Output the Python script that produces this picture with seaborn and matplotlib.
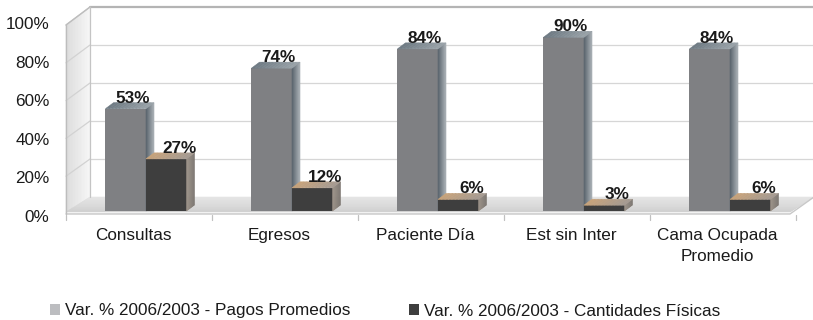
import numpy as np
import pandas as pd
import matplotlib
matplotlib.use("Agg")
import matplotlib.pyplot as plt
import matplotlib.transforms as mtransforms
from matplotlib.patches import Polygon, Patch
from matplotlib.colors import to_rgb
import seaborn as sns

# ---- data -------------------------------------------------------------
categories = ["Consultas", "Egresos", "Paciente Día", "Est sin Inter", "Cama Ocupada\nPromedio"]
pagos = [53, 74, 84, 90, 84]
cantidades = [27, 12, 6, 3, 6]
series = ["Var. % 2006/2003 - Pagos Promedios", "Var. % 2006/2003 - Cantidades Físicas"]
yticks = [0, 20, 40, 60, 80, 100]

# ---- style ------------------------------------------------------------
sns.set_theme(style="white")
plt.rcParams["font.family"] = ["Liberation Sans", "DejaVu Sans"]

GRAY_FRONT = "#7f8083"
DARK_FRONT = "#3e3e3e"
TEXT = "#1a1a1a"
FS = 12.3

W, H, DPI = 813, 320, 100
fig = plt.figure(figsize=(W / DPI, H / DPI), dpi=DPI)
fig.patch.set_facecolor("white")

# pixel-space canvas (origin top-left) for the box walls and floor
bg = fig.add_axes([0, 0, 1, 1])
bg.set_xlim(0, W)
bg.set_ylim(H, 0)
bg.axis("off")

front = dict(x0=66, x1=790, y0=214, y100=25)
back = dict(x0=90, x1=814, y0=197, y100=7)


def plane_y(p, v):
    return p["y0"] + (p["y100"] - p["y0"]) * v / 100.0


def shade_quad(axis, p0, p1, p2, p3, c0, c1, n=16, transform=None, zorder=1):
    """Fill quad p0-p1-p2-p3 with a linear gradient running from edge p0-p3 to edge p1-p2."""
    p0, p1, p2, p3 = (np.asarray(p, float) for p in (p0, p1, p2, p3))
    c0, c1 = np.array(to_rgb(c0)), np.array(to_rgb(c1))
    tr = transform if transform is not None else axis.transData
    for k in range(n):
        t0, t1 = k / n, (k + 1) / n
        a = p0 + (p1 - p0) * t0
        b = p0 + (p1 - p0) * t1
        c = p3 + (p2 - p3) * t1
        d = p3 + (p2 - p3) * t0
        col = c0 + (c1 - c0) * (k + 0.5) / n
        axis.add_patch(Polygon([a, b, c, d], closed=True, fc=col, ec=col, lw=0.4,
                               transform=tr, zorder=zorder, clip_on=False))


# back wall
bg.add_patch(Polygon([(back["x0"], back["y100"]), (back["x1"], back["y100"]),
                      (back["x1"], back["y0"]), (back["x0"], back["y0"])],
                     closed=True, fc="white", ec="none", zorder=0))
# left wall
shade_quad(bg, (front["x0"], plane_y(front, 100)), (back["x0"], plane_y(back, 100)),
           (back["x0"], back["y0"]), (front["x0"], front["y0"]),
           "#dcdcdc", "#f6f6f6", zorder=0.5)
# floor
shade_quad(bg, (back["x0"], back["y0"]), (front["x0"], front["y0"] - 2),
           (front["x1"], front["y0"] - 2), (back["x1"], back["y0"]),
           "#e6e6e6", "#d0d0d0", zorder=0.5)
bg.add_patch(Polygon([(front["x0"], front["y0"] - 2), (front["x1"], front["y0"] - 2),
                      (front["x1"], front["y0"]), (front["x0"], front["y0"])],
                     closed=True, fc="#f2f2f2", ec="none", zorder=0.6))
bg.plot([front["x0"], front["x1"], back["x1"]], [front["y0"], front["y0"], back["y0"]],
        color="#c8c8c8", lw=1.0, zorder=0.7)

# grid lines on back and left walls
for v in yticks[1:]:
    yb, yf = plane_y(back, v), plane_y(front, v)
    if v == 100:
        bg.plot([back["x0"], back["x1"]], [yb, yb], color="#b4b4b4", lw=1.6, zorder=0.8)
    else:
        bg.plot([back["x0"], back["x1"]], [yb, yb], color="#d6d6d6", lw=0.9, zorder=0.8)
    bg.plot([front["x0"], back["x0"]], [yf, yb], color="#d2d2d2", lw=0.9, zorder=0.8)

# wall edges
bg.plot([front["x0"], front["x0"]], [plane_y(front, 100), front["y0"]], color="#bdbdbd", lw=1.0, zorder=0.9)
bg.plot([front["x0"], back["x0"]], [plane_y(front, 100), plane_y(back, 100)], color="#bdbdbd", lw=1.0, zorder=0.9)
bg.plot([back["x0"], back["x0"]], [plane_y(back, 100), back["y0"]], color="#c4c4c4", lw=0.9, zorder=0.9)

# category separators under the floor
step = (front["x1"] - front["x0"]) / len(categories) * 1.008
for k in range(len(categories) + 1):
    xk = front["x0"] + step * k
    bg.plot([xk, xk], [front["y0"] + 1, front["y0"] + 6], color="#c0c0c0", lw=0.9, zorder=0.9)

# ---- bars -------------------------------------------------------------
ax = fig.add_axes([73 / W, (H - 211) / H, 730 / W, 193 / H])
ax.patch.set_alpha(0)

df = pd.DataFrame({
    "categoria": categories * 2,
    "valor": pagos + cantidades,
    "serie": [series[0]] * len(categories) + [series[1]] * len(categories),
})
sns.barplot(data=df, x="categoria", y="valor", hue="serie", hue_order=series,
            palette=[GRAY_FRONT, DARK_FRONT], width=0.555, saturation=1,
            edgecolor="none", linewidth=0, legend=False, ax=ax)

ax.set_xlim(-0.5, len(categories) - 0.5)
ax.set_ylim(0, 100)
for s in ax.spines.values():
    s.set_visible(False)
ax.set_xlabel("")
ax.set_ylabel("")

# tick labels sit on the front plane of the box
ax.set_yticks(yticks)
ax.set_yticklabels([f"{v}%" for v in yticks])
ax.tick_params(axis="y", length=0, pad=17, labelsize=FS, labelcolor=TEXT)
ax.tick_params(axis="x", length=0, pad=12.5, labelsize=FS, labelcolor=TEXT)
shift_x = mtransforms.ScaledTranslation(-13 / DPI, 0, fig.dpi_scale_trans)
shift_y = mtransforms.ScaledTranslation(0, -5 / DPI, fig.dpi_scale_trans)
for lab in ax.get_xticklabels():
    lab.set_transform(lab.get_transform() + shift_x)
    lab.set_linespacing(1.45)
    lab.set_verticalalignment("top")
for lab in ax.get_yticklabels():
    lab.set_transform(lab.get_transform() + shift_y)

# depth faces of every bar, built from the bar rectangles
ident = mtransforms.IdentityTransform()
DX, DY = 8, 6
face_styles = [
    dict(side=("#56616a", "#aab1b6"), top=("#6d7982", "#9aa3a9"), z=2, lab_dx=7),
    dict(side=("#9c9287", "#7b756f"), top=("#c9a37a", "#a39a92"), z=3, lab_dx=13),
]
for container, style, vals in zip(ax.containers, face_styles, [pagos, cantidades]):
    for rect, val in zip(container.patches, vals):
        rect.set_zorder(style["z"])
        x0, y0 = rect.get_x(), rect.get_y()
        x1, y1 = x0 + rect.get_width(), y0 + rect.get_height()
        (dx0, dy0), (dx1, dy1) = ax.transData.transform([(x0, y0), (x1, y1)])
        # side face
        shade_quad(ax, (dx1, dy0), (dx1 + DX, dy0 + DY), (dx1 + DX, dy1 + DY), (dx1, dy1),
                   *style["side"], n=8, transform=ident, zorder=style["z"] + 0.1)
        # top face
        shade_quad(ax, (dx0, dy1), (dx1, dy1), (dx1 + DX, dy1 + DY), (dx0 + DX, dy1 + DY),
                   *style["top"], n=12, transform=ident, zorder=style["z"] + 0.1)
        cx = (dx0 + dx1) / 2 + style["lab_dx"]
        ax.text(cx, dy1 + DY, f"{val}%", transform=ident, ha="center", va="baseline",
                fontsize=FS, fontweight="bold", color=TEXT, zorder=5)

# ---- legend -----------------------------------------------------------
handles = [Patch(facecolor="#bcbdc0", edgecolor="none", label=series[0]),
           Patch(facecolor=DARK_FRONT, edgecolor="none", label=series[1])]
fig.legend(handles=handles, loc="center left", bbox_to_anchor=(50 / W, 1 - 311 / H),
           ncol=2, frameon=False, fontsize=FS, handlelength=0.6, handleheight=0.6,
           handletextpad=0.3, columnspacing=3.4, borderaxespad=0, borderpad=0,
           labelcolor=TEXT)

fig.savefig("out.png", dpi=DPI, facecolor="white")
